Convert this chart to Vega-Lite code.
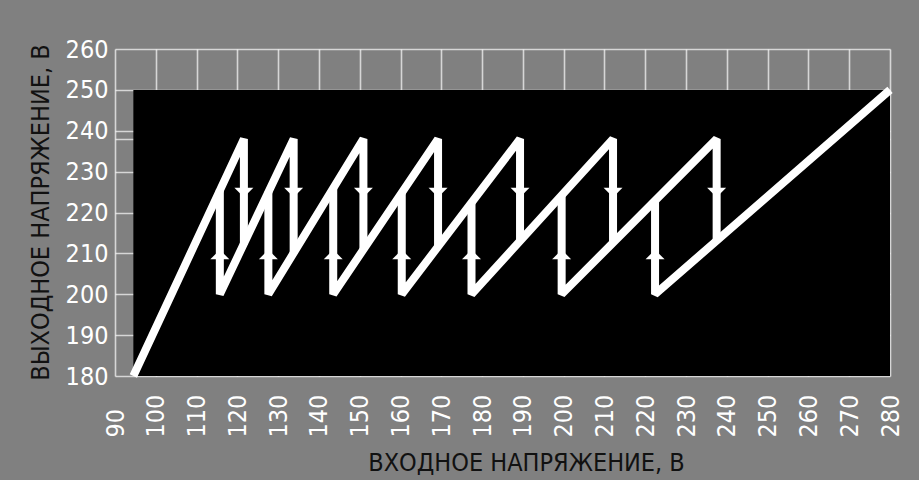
{
  "$schema": "https://vega.github.io/schema/vega-lite/v6.json",
  "width": 775,
  "height": 327,
  "autosize": {"type": "none"},
  "padding": {"left": 115, "top": 49, "right": 29, "bottom": 104},
  "background": "#808080",
  "config": {
    "view": {"fill": "#808080", "stroke": null},
    "font": "DejaVu Sans Condensed, Roboto Condensed, Roboto, sans-serif",
    "axis": {
      "zindex": 1,
      "domain": false,
      "ticks": false,
      "gridColor": "#ffffff",
      "gridOpacity": 0.68,
      "gridWidth": 1.6,
      "labelColor": "#ffffff",
      "labelFont": "DejaVu Sans Condensed, Roboto Condensed, Roboto, sans-serif",
      "labelFontSize": 25,
      "titleColor": "#111111",
      "titleFont": "DejaVu Sans Condensed, Roboto Condensed, Roboto, sans-serif",
      "titleFontSize": 25,
      "titleFontWeight": "normal"
    }
  },
  "datasets": {
    "zone": [{"x": 94.5, "x2": 280, "y": 180, "y2": 250}],
    "path": [
      {"seg": 1, "ord": 1, "x": 94.5, "y": 180},
      {"seg": 1, "ord": 2, "x": 121.6, "y": 238},
      {"seg": 1, "ord": 3, "x": 121.6, "y": 212.2},
      {"seg": 2, "ord": 1, "x": 115.7, "y": 225.6},
      {"seg": 2, "ord": 2, "x": 115.7, "y": 200},
      {"seg": 2, "ord": 3, "x": 133.8, "y": 238},
      {"seg": 2, "ord": 4, "x": 133.8, "y": 210},
      {"seg": 3, "ord": 1, "x": 127.6, "y": 225.1},
      {"seg": 3, "ord": 2, "x": 127.6, "y": 200},
      {"seg": 3, "ord": 3, "x": 150.9, "y": 238},
      {"seg": 3, "ord": 4, "x": 150.9, "y": 210.9},
      {"seg": 4, "ord": 1, "x": 143.5, "y": 225.9},
      {"seg": 4, "ord": 2, "x": 143.5, "y": 200},
      {"seg": 4, "ord": 3, "x": 169.2, "y": 238},
      {"seg": 4, "ord": 4, "x": 169.2, "y": 211.7},
      {"seg": 5, "ord": 1, "x": 160.3, "y": 224.8},
      {"seg": 5, "ord": 2, "x": 160.3, "y": 200},
      {"seg": 5, "ord": 3, "x": 189.3, "y": 238},
      {"seg": 5, "ord": 4, "x": 189.3, "y": 213},
      {"seg": 6, "ord": 1, "x": 177.4, "y": 222.4},
      {"seg": 6, "ord": 2, "x": 177.4, "y": 200},
      {"seg": 6, "ord": 3, "x": 212.1, "y": 238},
      {"seg": 6, "ord": 4, "x": 212.1, "y": 212.6},
      {"seg": 7, "ord": 1, "x": 199.5, "y": 224.2},
      {"seg": 7, "ord": 2, "x": 199.5, "y": 200},
      {"seg": 7, "ord": 3, "x": 237.5, "y": 238},
      {"seg": 7, "ord": 4, "x": 237.5, "y": 213.1},
      {"seg": 8, "ord": 1, "x": 222.4, "y": 222.9},
      {"seg": 8, "ord": 2, "x": 222.4, "y": 200},
      {"seg": 8, "ord": 3, "x": 280, "y": 250}
    ],
    "arrows": [
      {"dir": "down", "x": 121.6, "y": 225},
      {"dir": "down", "x": 133.8, "y": 225},
      {"dir": "down", "x": 150.9, "y": 225},
      {"dir": "down", "x": 169.2, "y": 225},
      {"dir": "down", "x": 189.3, "y": 225},
      {"dir": "down", "x": 212.1, "y": 225},
      {"dir": "down", "x": 237.5, "y": 225},
      {"dir": "up", "x": 115.7, "y": 209.6},
      {"dir": "up", "x": 127.6, "y": 209.6},
      {"dir": "up", "x": 143.5, "y": 209.6},
      {"dir": "up", "x": 160.3, "y": 209.6},
      {"dir": "up", "x": 177.4, "y": 209.6},
      {"dir": "up", "x": 199.5, "y": 209.6},
      {"dir": "up", "x": 222.4, "y": 209.6}
    ]
  },
  "encoding": {
    "x": {
      "field": "x",
      "type": "quantitative",
      "scale": {"domain": [90, 280], "nice": false, "zero": false},
      "axis": {
        "title": "ВХОДНОЕ НАПРЯЖЕНИЕ, В",
        "values": [90, 100, 110, 120, 130, 140, 150, 160, 170, 180, 190, 200, 210, 220, 230, 240, 250, 260, 270, 280],
        "labelAngle": -90,
        "labelAlign": "left",
        "labelBaseline": "middle",
        "labelPadding": 61,
        "labelFlush": false,
        "labelOverlap": false,
        "titleX": 411,
        "titleY": 94,
        "titleAlign": "center",
        "titleBaseline": "alphabetic"
      }
    },
    "y": {
      "field": "y",
      "type": "quantitative",
      "scale": {"domain": [180, 260], "nice": false, "zero": false},
      "axis": {
        "title": "ВЫХОДНОЕ НАПРЯЖЕНИЕ, В",
        "values": [180, 190, 200, 210, 220, 230, 238, 240, 250, 260],
        "labelExpr": "datum.value == 238 ? '' : datum.label",
        "labelPadding": 7,
        "labelBaseline": "middle",
        "labelFlush": false,
        "labelOverlap": false,
        "titleAngle": -90,
        "titleX": -75,
        "titleY": 163,
        "titleAlign": "center",
        "titleBaseline": "middle"
      }
    }
  },
  "layer": [
    {
      "data": {"name": "zone"},
      "mark": {"type": "rect", "color": "#000000"},
      "encoding": {
        "x2": {"field": "x2"},
        "y2": {"field": "y2"}
      }
    },
    {
      "data": {"name": "path"},
      "mark": {"type": "line", "color": "#ffffff", "strokeWidth": 8, "strokeJoin": "bevel", "strokeCap": "butt"},
      "encoding": {
        "detail": {"field": "seg", "type": "nominal"},
        "order": {"field": "ord", "type": "quantitative"}
      }
    },
    {
      "data": {"name": "arrows"},
      "mark": {"type": "point", "filled": true, "color": "#ffffff", "opacity": 1, "size": 360},
      "encoding": {
        "shape": {
          "field": "dir",
          "type": "nominal",
          "scale": {
            "domain": ["down", "up"],
            "range": ["M-1,-0.45 L1,-0.45 L0,0.55 Z", "M-1,0.45 L1,0.45 L0,-0.55 Z"]
          },
          "legend": null
        }
      }
    }
  ]
}
